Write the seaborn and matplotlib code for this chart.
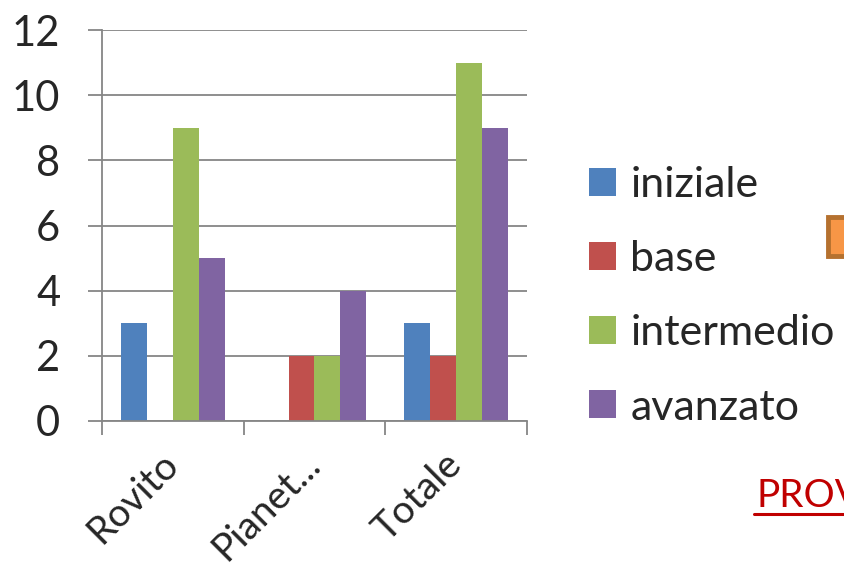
import matplotlib
matplotlib.use("Agg")
import matplotlib.pyplot as plt
import matplotlib.patches as mpatches
import matplotlib.lines as mlines
import seaborn as sns
import pandas as pd

categories = ["Rovito", "Pianet...", "Totale"]
series = ["iniziale", "base", "intermedio", "avanzato"]
iniziale = [3, 0, 3]
base = [0, 2, 2]
intermedio = [9, 2, 11]
avanzato = [5, 4, 9]
colors = ["#4F81BD", "#C0504D", "#9BBB59", "#8064A2"]
y_ticks = [0, 2, 4, 6, 8, 10, 12]

rows = []
for s, vals in zip(series, [iniziale, base, intermedio, avanzato]):
    for c, v in zip(categories, vals):
        rows.append({"cat": c, "serie": s, "val": v})
df = pd.DataFrame(rows)

sns.set_style("white")
plt.rcParams["font.family"] = ["Lato", "DejaVu Sans"]
FS = 31

fig = plt.figure(figsize=(8.45, 5.7), dpi=100)
ax = fig.add_axes([102/845, 1-421/570, 425/845, 391/570])

sns.barplot(data=df, x="cat", y="val", hue="serie", order=categories,
            hue_order=series, palette=colors, width=0.73, ax=ax,
            saturation=1, legend=True, edgecolor="none", linewidth=0)

grid_c = "#868686"
ax.set_ylim(0, 12)
ax.set_xlim(-0.5, 2.5)
ax.set_yticks(y_ticks)
ax.set_yticklabels([str(t) for t in y_ticks], fontsize=30)
ax.yaxis.grid(True, color=grid_c, linewidth=1.3)
ax.set_axisbelow(True)
ax.tick_params(axis="y", length=10, width=1.3, color=grid_c, pad=20, left=True)
ax.set_xticks(range(len(categories)))
ax.set_xticklabels(categories, fontsize=28, rotation=45, ha="right", va="center",
                   rotation_mode="anchor")
ax.tick_params(axis="x", which="major", length=0, pad=27)
ax.set_xticks([-0.5, 0.5, 1.5, 2.5], minor=True)
ax.tick_params(axis="x", which="minor", length=10, width=1.3, color=grid_c, bottom=True)
ax.set_xlabel("")
ax.set_ylabel("")
for side in ["top", "right"]:
    ax.spines[side].set_visible(False)
for side in ["left", "bottom"]:
    ax.spines[side].set_color(grid_c)
    ax.spines[side].set_linewidth(1.3)

handles, labels = ax.get_legend_handles_labels()
ax.legend_.remove()
fig.legend(handles, labels, loc="upper left", bbox_to_anchor=(589/845, 1-166/570),
           frameon=False, fontsize=FS, handlelength=0.63, handleheight=0.63,
           handletextpad=0.33, labelspacing=0.84, borderaxespad=0, borderpad=0)

rect = mpatches.Rectangle((828/845, 1-256/570), 30/845, 39/570,
                          transform=fig.transFigure, facecolor="#F79646",
                          edgecolor="#B5712F", linewidth=3.5, clip_on=False)
fig.patches.append(rect)

fig.text(757/845, 1-507/570, "PROV", color="#C00000", fontsize=28,
         ha="left", va="baseline")
fig.add_artist(mlines.Line2D([754/845, 1.0], [1-514/570, 1-514/570],
                             transform=fig.transFigure, color="#C00000", linewidth=2.2))

fig.savefig("out.png", dpi=100)
